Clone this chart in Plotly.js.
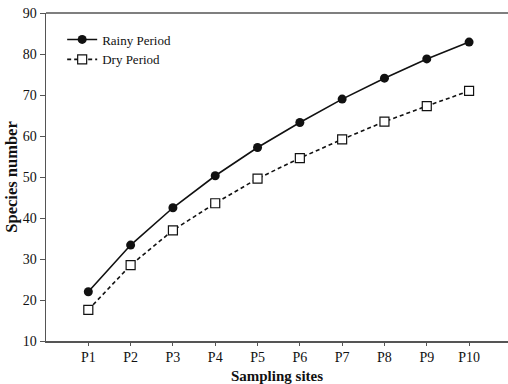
<!DOCTYPE html>
<html>
<head>
<meta charset="utf-8">
<script src="https://cdn.plot.ly/plotly-3.0.1.min.js"></script>
<style>html,body{margin:0;padding:0;background:#fff;}#chart{width:508px;height:384px;}</style>
</head>
<body>
<div id="chart"></div>
<script>
const sites = ["P1","P2","P3","P4","P5","P6","P7","P8","P9","P10"];
const rainyPeriod = [22.0, 33.4, 42.5, 50.3, 57.2, 63.3, 69.0, 74.1, 78.8, 82.9];
const dryPeriod = [17.6, 28.5, 37.0, 43.6, 49.6, 54.6, 59.2, 63.5, 67.3, 71.0];
const yTicks = [10,20,30,40,50,60,70,80,90];

const font = "'Liberation Serif', 'Times New Roman', serif";
const traces = [
  {x: sites, y: rainyPeriod, name: "Rainy Period", type: "scatter", mode: "lines+markers",
   line: {color: "#111", width: 1.6},
   marker: {symbol: "circle", size: 9, color: "#111"}},
  {x: sites, y: dryPeriod, name: "Dry Period", type: "scatter", mode: "lines+markers",
   line: {color: "#111", width: 1.6, dash: "4px,3px"},
   marker: {symbol: "square", size: 9, color: "#fff", line: {width: 1.2, color: "#111"}}}
];
const layout = {
  width: 508, height: 384,
  margin: {l: 46, r: 0, t: 13, b: 43},
  paper_bgcolor: "#fff", plot_bgcolor: "#fff",
  font: {family: font, color: "#111", size: 14},
  showlegend: true,
  legend: {x: 0.035, y: 0.965, xanchor: "left", yanchor: "top", bgcolor: "rgba(0,0,0,0)",
           font: {family: font, size: 13, color: "#111"}, tracegroupgap: 0, itemwidth: 30},
  xaxis: {type: "category", range: [-1, 9.92], showgrid: false, zeroline: false,
          showline: true, linecolor: "#555", linewidth: 1.5, mirror: false,
          ticks: "outside", ticklen: 3, tickcolor: "#555", tickwidth: 1,
          tickfont: {family: font, size: 14, color: "#111"},
          title: {text: "<b>Sampling sites</b>", font: {family: font, size: 15, color: "#111"}, standoff: 8}},
  yaxis: {range: [10, 90], tickvals: yTicks, showgrid: false, zeroline: false,
          showline: true, linecolor: "#555", linewidth: 1.5,
          ticks: "outside", ticklen: 5, tickcolor: "#555", tickwidth: 1,
          tickfont: {family: font, size: 14, color: "#111"},
          title: {text: "<b>Species number</b>", font: {family: font, size: 16.5, color: "#111"}, standoff: 1}},
  shapes: [{type: "line", xref: "paper", yref: "paper", x0: 0, x1: 1, y0: 1, y1: 1,
            line: {color: "#555", width: 1.5}}]
};
Plotly.newPlot("chart", traces, layout, {displayModeBar: false, staticPlot: true});
</script>
</body>
</html>
